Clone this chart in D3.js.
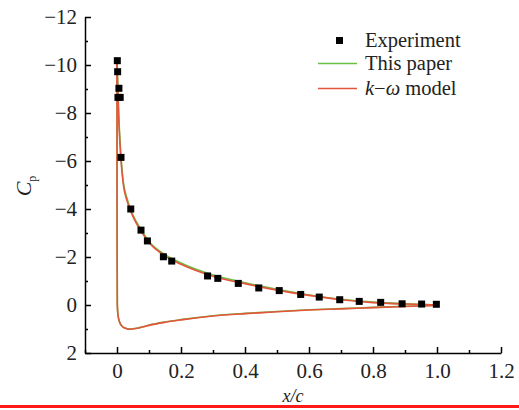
<!DOCTYPE html>
<html>
<head>
<meta charset="utf-8">
<script src="https://cdn.jsdelivr.net/npm/d3@7"></script>
<style>
  body { margin: 0; background: #fff; }
  svg { display: block; }
  text { font-family: "Liberation Serif", "Times New Roman", serif; }
</style>
</head>
<body>
<div id="chart"></div>
<script>
// experiment
var expX = [0.001, 0.002, 0.006, 0.003, 0.010, 0.0125, 0.043, 0.075, 0.095, 0.145, 0.171,
            0.283, 0.315, 0.379, 0.443, 0.507, 0.574, 0.632, 0.696, 0.757, 0.824, 0.891, 0.952, 0.998];
var expCp = [-10.18, -9.72, -9.03, -8.65, -8.65, -6.15, -4.0, -3.12, -2.67, -2.01, -1.83,
             -1.21, -1.11, -0.90, -0.71, -0.60, -0.44, -0.33, -0.22, -0.15, -0.11, -0.05, -0.04, -0.03];

// upper surface
var upX = [0, 0.002, 0.005, 0.01, 0.02, 0.03, 0.05, 0.075, 0.1, 0.15, 0.2, 0.3, 0.4, 0.5, 0.6, 0.7, 0.8, 0.9, 1.0];
var upCpGreen = [-10.3, -9.4, -8.1, -6.7, -5.1, -4.5, -3.75, -3.15, -2.65, -2.1, -1.75, -1.25, -0.93, -0.65, -0.42, -0.24, -0.12, -0.05, 0.0];
var upCpRed = [-10.1, -9.2, -7.9, -6.55, -5.0, -4.4, -3.68, -3.08, -2.6, -2.04, -1.7, -1.2, -0.89, -0.62, -0.4, -0.22, -0.1, -0.04, 0.0];

// lower surface
var loX = [0, 0.0003, 0.001, 0.003, 0.008, 0.015, 0.025, 0.04, 0.06, 0.08, 0.1, 0.15, 0.2, 0.3, 0.4, 0.5, 0.6, 0.7, 0.8, 0.9, 1.0];
var loCpGreen = [-10.3, -3.0, 0.0, 0.42, 0.72, 0.88, 0.97, 1.0, 0.97, 0.91, 0.84, 0.71, 0.61, 0.45, 0.35, 0.27, 0.2, 0.15, 0.1, 0.05, 0.01];
var loCpRed = [-10.1, -3.0, 0.0, 0.4, 0.7, 0.87, 0.96, 1.01, 0.98, 0.92, 0.85, 0.72, 0.62, 0.46, 0.36, 0.28, 0.21, 0.16, 0.11, 0.06, 0.02];

var xTicks = [0, 0.2, 0.4, 0.6, 0.8, 1.0, 1.2];
var xMinor = [-0.1, 0.1, 0.3, 0.5, 0.7, 0.9, 1.1];
var yTicks = [-12, -10, -8, -6, -4, -2, 0, 2];
var yMinor = [-11, -9, -7, -5, -3, -1, 1];

var green = "#6cbf45", red = "#e4553c";

var svg = d3.select("#chart").append("svg")
  .attr("width", 519)
  .attr("height", 410);

var x = d3.scaleLinear().domain([-0.1, 1.2]).range([85, 501]);
var y = d3.scaleLinear().domain([-12, 2]).range([17, 353]);

// curves
var line = d3.line()
  .x(function(d) { return x(d[0]); })
  .y(function(d) { return y(d[1]); })
  .curve(d3.curveMonotoneX);

function pairs(xs, ys) { return xs.map(function(v, i) { return [v, ys[i]]; }); }

var curves = [
  [pairs(upX, upCpGreen), green],
  [pairs(loX, loCpGreen), green],
  [pairs(upX, upCpRed), red],
  [pairs(loX, loCpRed), red]
];
svg.selectAll("path.curve")
  .data(curves)
  .enter().append("path")
  .attr("class", "curve")
  .attr("fill", "none")
  .attr("stroke", function(d) { return d[1]; })
  .attr("stroke-width", 1.6)
  .attr("d", function(d) { return line(d[0]); });

// experiment squares
svg.selectAll("rect.exp")
  .data(pairs(expX, expCp))
  .enter().append("rect")
  .attr("class", "exp")
  .attr("x", function(d) { return x(d[0]) - 3.5; })
  .attr("y", function(d) { return y(d[1]) - 3.5; })
  .attr("width", 7)
  .attr("height", 7)
  .attr("fill", "#000");

// axes
var fmtX = function(d) { return d === 0 ? "0" : d3.format(".1f")(d); };

svg.append("g").attr("transform", "translate(0," + y(2) + ")")
  .call(d3.axisBottom(x).tickValues(xTicks).tickSizeInner(-6).tickSizeOuter(0).tickPadding(10).tickFormat(fmtX));
svg.append("g").attr("transform", "translate(0," + y(2) + ")")
  .call(d3.axisBottom(x).tickValues(xMinor).tickSizeInner(-3).tickSizeOuter(0).tickFormat(""))
  .select(".domain").remove();

svg.append("g").attr("transform", "translate(" + x(-0.1) + ",0)")
  .call(d3.axisLeft(y).tickValues(yTicks).tickSizeInner(-6).tickSizeOuter(0).tickPadding(8));
svg.append("g").attr("transform", "translate(" + x(-0.1) + ",0)")
  .call(d3.axisLeft(y).tickValues(yMinor).tickSizeInner(-3).tickSizeOuter(0).tickFormat(""))
  .select(".domain").remove();

svg.selectAll(".domain, .tick line").attr("stroke", "#000").attr("stroke-width", 1.5);
svg.selectAll(".tick text")
  .attr("font-family", "Liberation Serif, Times New Roman, serif")
  .attr("font-size", 21)
  .attr("fill", "#222");

// axis titles
var yt = svg.append("text")
  .attr("transform", "translate(31,186) rotate(-90)")
  .attr("text-anchor", "middle")
  .attr("font-size", 22)
  .attr("fill", "#222");
yt.append("tspan").attr("font-style", "italic").text("C");
yt.append("tspan").attr("font-size", 12).attr("dy", 5).text("p");

svg.append("text")
  .attr("x", x(0.55))
  .attr("y", 402)
  .attr("text-anchor", "middle")
  .attr("font-size", 18)
  .attr("font-style", "italic")
  .attr("fill", "#222")
  .text("x/c");

// legend
var lg = svg.append("g");
lg.append("rect").attr("x", 336).attr("y", 37).attr("width", 7).attr("height", 7).attr("fill", "#000");
lg.append("text").attr("x", 365).attr("y", 47).attr("font-size", 20.5).attr("fill", "#222").text("Experiment");
lg.append("line").attr("x1", 318).attr("x2", 357).attr("y1", 63.5).attr("y2", 63.5)
  .attr("stroke", green).attr("stroke-width", 1.6);
lg.append("text").attr("x", 365).attr("y", 70).attr("font-size", 20.5).attr("fill", "#222").text("This paper");
lg.append("line").attr("x1", 318).attr("x2", 357).attr("y1", 88.5).attr("y2", 88.5)
  .attr("stroke", red).attr("stroke-width", 1.6);
var kt = lg.append("text").attr("x", 365).attr("y", 95).attr("font-size", 20.5).attr("fill", "#222");
kt.append("tspan").attr("font-style", "italic").text("k");
kt.append("tspan").text("\u2212");
kt.append("tspan").attr("font-style", "italic").text("\u03c9");
kt.append("tspan").text(" model");

// red border at bottom
svg.append("rect").attr("x", 0).attr("y", 405).attr("width", 519).attr("height", 3).attr("fill", "#ff1a1a");
</script>
</body>
</html>
